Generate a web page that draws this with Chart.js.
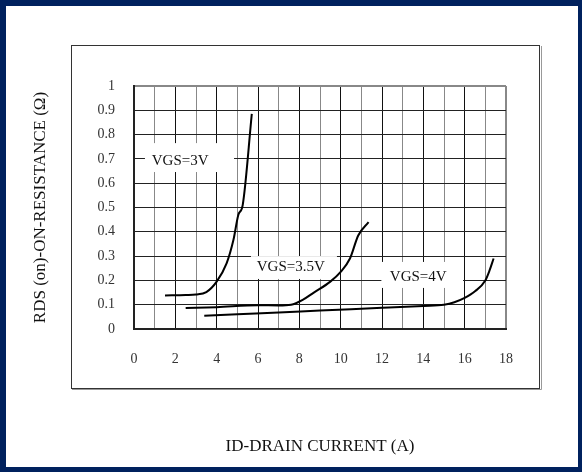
<!DOCTYPE html>
<html>
<head>
<meta charset="utf-8">
<script src="https://cdn.jsdelivr.net/npm/chart.js@4"></script>
<style>
  body { margin: 0; background: #fff; }
  #wrap { position: relative; width: 582px; height: 472px; }
  #edge { position: absolute; left: 0; top: 0; width: 582px; height: 472px; box-sizing: border-box;
          border-style: solid; border-color: #00215e; border-width: 6px 4px 5px 6px; pointer-events: none; }
  canvas { position: absolute; left: 0; top: 0; }
</style>
</head>
<body>
<div id="wrap">
  <canvas id="rdsChart" width="582" height="472"></canvas>
  <div id="edge"></div>
</div>
<script>
// drain current (A) / on-resistance (ohm)
const vgs3X = [1.5, 2.5, 3, 3.5, 4, 4.48, 4.81, 5.05, 5.26, 5.7];
const vgs3Y = [0.138, 0.14, 0.142, 0.152, 0.195, 0.27, 0.366, 0.47, 0.51, 0.885];

const vgs35X = [2.5, 4, 6, 7, 7.6, 8.2, 8.7, 9.5, 10, 10.45, 10.85, 11.35];
const vgs35Y = [0.086, 0.09, 0.098, 0.097, 0.1, 0.122, 0.15, 0.195, 0.235, 0.29, 0.385, 0.44];

const vgs4X = [3.4, 5, 7, 9, 12, 14, 15, 15.5, 16, 16.5, 17, 17.2, 17.4];
const vgs4Y = [0.055, 0.061, 0.068, 0.076, 0.087, 0.095, 0.1, 0.11, 0.128, 0.155, 0.2, 0.24, 0.29];

const xTickLabels = [0, 2, 4, 6, 8, 10, 12, 14, 16, 18];
const yTickLabels = ['0', '0.1', '0.2', '0.3', '0.4', '0.5', '0.6', '0.7', '0.8', '0.9', '1'];

const curveNames = ['VGS=3V', 'VGS=3.5V', 'VGS=4V'];

// where the curve names sit (data units), box = [x0, x1, y0, y1]
const notePlaces = [
    { x: 0.86, y: 0.693, box: [0.53, 4.84, 0.646, 0.765] },
    { x: 5.94, y: 0.256, box: [5.66, 9.82, 0.206, 0.30] },
    { x: 12.38, y: 0.215, box: [11.97, 15.92, 0.169, 0.276] }
];

const toPoints = (xs, ys) => xs.map((x, i) => ({ x: x, y: ys[i] }));

const serif = "'Liberation Serif', 'DejaVu Serif', serif";

const framePlugin = {
    id: 'frame',
    beforeDraw(chart) {
        const ctx = chart.ctx;
        ctx.save();
        ctx.fillStyle = '#fff';
        ctx.fillRect(0, 0, chart.width, chart.height);
        ctx.strokeStyle = '#333';
        ctx.lineWidth = 1;
        ctx.strokeRect(71.5, 45.5, 468, 343);
        ctx.strokeStyle = '#999';
        ctx.beginPath();
        ctx.moveTo(72, 389.5);
        ctx.lineTo(541.5, 389.5);
        ctx.lineTo(541.5, 46);
        ctx.stroke();
        ctx.restore();
    }
};

const notesPlugin = {
    id: 'notes',
    beforeDatasetsDraw(chart) {
        const ctx = chart.ctx;
        const xs = chart.scales.x;
        const ys = chart.scales.y;
        ctx.save();
        ctx.font = '15px ' + serif;
        ctx.textBaseline = 'middle';
        ctx.textAlign = 'left';
        notePlaces.forEach((n, i) => {
            const x0 = xs.getPixelForValue(n.box[0]);
            const x1 = xs.getPixelForValue(n.box[1]);
            const y0 = ys.getPixelForValue(n.box[3]);
            const y1 = ys.getPixelForValue(n.box[2]);
            ctx.fillStyle = '#fff';
            ctx.fillRect(x0, y0, x1 - x0, y1 - y0);
            ctx.fillStyle = '#111';
            ctx.fillText(curveNames[i], xs.getPixelForValue(n.x), ys.getPixelForValue(n.y));
        });
        ctx.restore();
    }
};

const lineSet = (name, xs, ys) => ({
    label: name,
    data: toPoints(xs, ys),
    borderColor: '#000',
    borderWidth: 2,
    pointRadius: 0,
    fill: false,
    cubicInterpolationMode: 'monotone'
});

new Chart(document.getElementById('rdsChart'), {
    type: 'line',
    data: {
        datasets: [
            lineSet(curveNames[0], vgs3X, vgs3Y),
            lineSet(curveNames[1], vgs35X, vgs35Y),
            lineSet(curveNames[2], vgs4X, vgs4Y)
        ]
    },
    options: {
        responsive: false,
        animation: false,
        layout: { padding: { left: 0, right: 76, top: 86, bottom: 0 } },
        plugins: {
            legend: { display: false },
            tooltip: { enabled: false }
        },
        scales: {
            x: {
                type: 'linear',
                min: 0,
                max: 18,
                afterFit: (scale) => { scale.height = 143; },
                border: { color: '#222', width: 2 },
                grid: {
                    drawTicks: false,
                    color: (c) => c.tick.value === 18 ? '#888' : (c.tick.value % 2 === 0 ? '#111' : '#888'),
                    lineWidth: (c) => c.tick.value === 18 ? 2 : 1
                },
                ticks: {
                    stepSize: 1,
                    autoSkip: false,
                    maxRotation: 0,
                    padding: 22,
                    color: '#333',
                    font: { family: serif, size: 14 },
                    callback: (v) => xTickLabels.includes(v) ? String(v) : ''
                },
                title: {
                    display: true,
                    text: 'ID-DRAIN CURRENT (A)',
                    color: '#111',
                    font: { family: serif, size: 17 },
                    padding: { top: 0, bottom: 15 }
                }
            },
            y: {
                min: 0,
                max: 1,
                afterFit: (scale) => { scale.width = 134; },
                border: { color: '#222', width: 2 },
                grid: {
                    drawTicks: false,
                    color: (c) => c.index === 10 ? '#888' : '#222',
                    lineWidth: (c) => c.index === 10 ? 2 : 1
                },
                ticks: {
                    stepSize: 0.1,
                    padding: 19,
                    color: '#333',
                    font: { family: serif, size: 14 },
                    callback: (v, i) => yTickLabels[i]
                },
                title: {
                    display: true,
                    text: 'RDS (on)-ON-RESISTANCE (Ω)',
                    color: '#111',
                    font: { family: serif, size: 17 },
                    padding: { top: 30, bottom: 0 }
                }
            }
        }
    },
    plugins: [framePlugin, notesPlugin]
});
</script>
</body>
</html>
